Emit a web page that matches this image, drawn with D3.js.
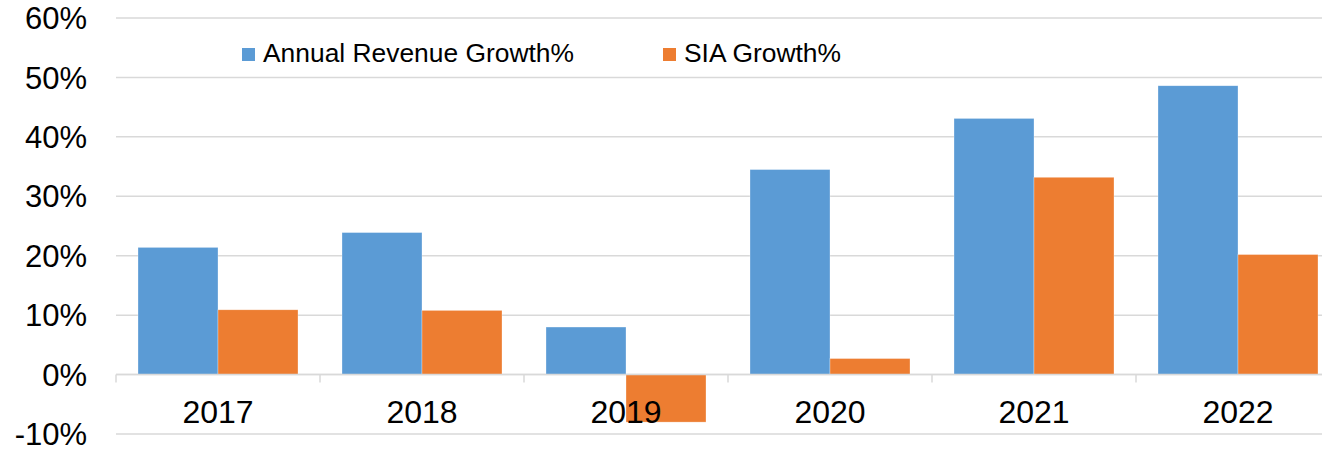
<!DOCTYPE html>
<html>
<head>
<meta charset="utf-8">
<script src="https://d3js.org/d3.v7.min.js"></script>
<style>
  body { margin: 0; background: #fff; }
  text { font-family: "Liberation Sans", Arial, sans-serif; fill: #000; }
</style>
</head>
<body>
<svg width="1322" height="450"></svg>
<script>
// data
var years = ["2017", "2018", "2019", "2020", "2021", "2022"];
var seriesNames = ["Annual Revenue Growth%", "SIA Growth%"];
var revenueGrowth = [21.4, 23.9, 8.0, 34.5, 43.1, 48.6];
var siaGrowth = [10.9, 10.8, -8.0, 2.7, 33.2, 20.2];
var yTicks = [-10, 0, 10, 20, 30, 40, 50, 60];
var colors = ["#5B9BD5", "#ED7D31"];

var svg = d3.select("svg");
var width = +svg.attr("width");

var x = d3.scaleBand().domain(years).range([116, 1340]);
var xInner = d3.scaleBand().domain(seriesNames).range([22, 182]);
var y = d3.scaleLinear().domain([-10, 60]).range([434, 18]);

// gridlines
svg.append("g")
   .selectAll("line")
   .data(yTicks)
   .enter().append("line")
   .attr("x1", 116)
   .attr("x2", width)
   .attr("y1", function(d) { return y(d); })
   .attr("y2", function(d) { return y(d); })
   .attr("stroke", "#d9d9d9")
   .attr("stroke-width", 1.5);

// y labels
svg.append("g")
   .selectAll("text")
   .data(yTicks)
   .enter().append("text")
   .attr("x", 87)
   .attr("y", function(d) { return y(d); })
   .attr("dy", "0.36em")
   .attr("text-anchor", "end")
   .attr("font-size", "31px")
   .text(function(d) { return d + "%"; });

// bars
var rows = years.map(function(yr, i) {
    return { year: yr, values: [revenueGrowth[i], siaGrowth[i]] };
});

var groups = svg.append("g")
   .selectAll("g")
   .data(rows)
   .enter().append("g")
   .attr("transform", function(d) { return "translate(" + x(d.year) + ",0)"; });

groups.selectAll("rect")
   .data(function(d) { return d.values.map(function(v, j) { return { name: seriesNames[j], value: v, k: j }; }); })
   .enter().append("rect")
   .attr("x", function(d) { return xInner(d.name); })
   .attr("width", xInner.bandwidth())
   .attr("y", function(d) { return y(Math.max(0, d.value)); })
   .attr("height", function(d) { return Math.abs(y(d.value) - y(0)); })
   .attr("fill", function(d) { return colors[d.k]; })
   .attr("stroke", "#fff")
   .attr("stroke-width", 0.6)
   .attr("stroke-opacity", 0.5);

// x axis line and ticks
svg.append("line")
   .attr("x1", 116).attr("x2", width)
   .attr("y1", y(0)).attr("y2", y(0))
   .attr("stroke", "#d9d9d9")
   .attr("stroke-width", 1.5);

var tickPos = years.map(function(d) { return x(d); });
svg.append("g")
   .selectAll("line")
   .data(tickPos)
   .enter().append("line")
   .attr("x1", function(d) { return d; })
   .attr("x2", function(d) { return d; })
   .attr("y1", y(0))
   .attr("y2", y(0) + 8)
   .attr("stroke", "#d9d9d9")
   .attr("stroke-width", 1.5);

// year labels
svg.append("g")
   .selectAll("text")
   .data(years)
   .enter().append("text")
   .attr("x", function(d) { return x(d) + x.bandwidth() / 2; })
   .attr("y", y(0) + 48)
   .attr("text-anchor", "middle")
   .attr("font-size", "32px")
   .text(function(d) { return d; });

// legend
var legendX = [242, 663];
var legend = svg.append("g")
   .selectAll("g")
   .data(seriesNames)
   .enter().append("g")
   .attr("transform", function(d, i) { return "translate(" + legendX[i] + ",48)"; });

legend.append("rect")
   .attr("width", 13)
   .attr("height", 13)
   .attr("fill", function(d, i) { return colors[i]; });

legend.append("text")
   .attr("x", 21)
   .attr("y", 14)
   .attr("font-size", "26.4px")
   .text(function(d) { return d; });
</script>
</body>
</html>
